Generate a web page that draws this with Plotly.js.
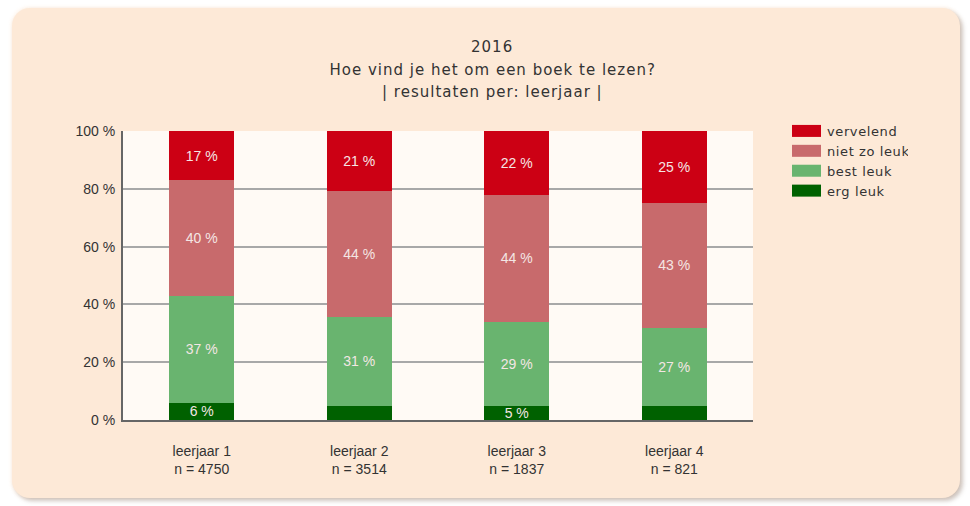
<!DOCTYPE html>
<html>
<head>
<meta charset="utf-8">
<script src="https://cdn.plot.ly/plotly-3.0.1.min.js"></script>
<style>
  html, body { margin: 0; padding: 0; background: #ffffff; }
  #box { position: absolute; left: 12px; top: 8px; width: 948px; height: 490px;
         background: #fde9d7; border-radius: 18px;
         box-shadow: 3px 3px 4px rgba(120,100,90,0.35), 0 0 4px rgba(253,233,215,0.9); }
  #chart { position: absolute; left: 0; top: 0; width: 970px; height: 506px; }
  #chart .annotation-text { letter-spacing: 1px; }
  #chart .legendtext { letter-spacing: 0.6px; }
</style>
</head>
<body>
<div id="box"></div>
<div id="chart"></div>
<script>
// categories (two-line tick labels)
const categories = ["leerjaar 1<br>n = 4750", "leerjaar 2<br>n = 3514", "leerjaar 3<br>n = 1837", "leerjaar 4<br>n = 821"];

// series values (percent)
const ergLeuk    = [6, 5, 5, 5];
const bestLeuk   = [37, 31, 29, 27];
const nietZoLeuk = [40, 44, 44, 43];
const vervelend  = [17, 21, 22, 25];

// which segments carry a visible label
const ergLeukLabels = ["6 %", "", "5 %", ""];

const yTickVals  = [0, 20, 40, 60, 80, 100];
const yTickTexts = ["0 %", "20 %", "40 %", "60 %", "80 %", "100 %"];

const seriesNames  = ["erg leuk", "best leuk", "niet zo leuk", "vervelend"];
const seriesColors = ["#006100", "#69b46f", "#c86a6c", "#cc0014"];

const titleLines = ["2016", "Hoe vind je het om een boek te lezen?", "| resultaten per: leerjaar |"];

const sans = "Liberation Sans, Arial, sans-serif";
const verd = "DejaVu Sans, Verdana, sans-serif";

function pct(arr) { return arr.map(v => v + " %"); }

const seriesData = [ergLeuk, bestLeuk, nietZoLeuk, vervelend];
const seriesText = [ergLeukLabels, pct(bestLeuk), pct(nietZoLeuk), pct(vervelend)];

const traces = seriesData.map((vals, i) => ({
  type: "bar",
  name: seriesNames[i],
  x: categories,
  y: vals,
  text: seriesText[i],
  textposition: "inside",
  insidetextanchor: "middle",
  textangle: 0,
  constraintext: "none",
  textfont: { family: sans, size: 14, color: "#f4e6e4" },
  marker: { color: seriesColors[i], line: { width: 0 } },
  width: 0.41,
  hoverinfo: "none"
}));

const titleY = [1.291, 1.212, 1.136];
const annotations = titleLines.map((t, i) => ({
  text: t,
  xref: "paper", yref: "paper",
  x: 0.586, y: titleY[i],
  xanchor: "center", yanchor: "middle",
  showarrow: false,
  font: { family: verd, size: 15, color: "#333333" }
}));

const layout = {
  width: 970,
  height: 506,
  barmode: "stack",
  barnorm: "percent",
  paper_bgcolor: "rgba(0,0,0,0)",
  plot_bgcolor: "#fffaf5",
  margin: { l: 123, r: 217, t: 131, b: 86 },
  annotations: annotations,
  xaxis: {
    type: "category",
    range: [-0.5, 3.5],
    showgrid: false,
    showline: true,
    linecolor: "#666666",
    linewidth: 2,
    ticks: "",
    ticklabelstandoff: 17,
    tickfont: { family: sans, size: 14, color: "#333333" },
    fixedrange: true
  },
  yaxis: {
    range: [0, 100],
    tickvals: yTickVals,
    ticktext: yTickTexts,
    showgrid: true,
    gridcolor: "#a8a8a8",
    gridwidth: 2,
    showline: true,
    linecolor: "#666666",
    linewidth: 2,
    ticks: "",
    ticklabelstandoff: 3,
    zeroline: false,
    tickfont: { family: sans, size: 14, color: "#333333" },
    fixedrange: true
  },
  legend: {
    traceorder: "reversed",
    x: 1.054, xanchor: "left",
    y: 1.052, yanchor: "top",
    bgcolor: "rgba(0,0,0,0)",
    font: { family: verd, size: 13, color: "#333333" },
    tracegroupgap: 0,
    itemclick: false,
    itemdoubleclick: false
  },
  showlegend: true
};

Plotly.newPlot("chart", traces, layout, { displayModeBar: false, staticPlot: true }).then(gd => {
  // widen legend keys to the reference's oblong swatches
  gd.querySelectorAll(".legendpoints path").forEach(p => p.setAttribute("d", "M14,6H-15V-6H14Z"));
});
</script>
</body>
</html>
